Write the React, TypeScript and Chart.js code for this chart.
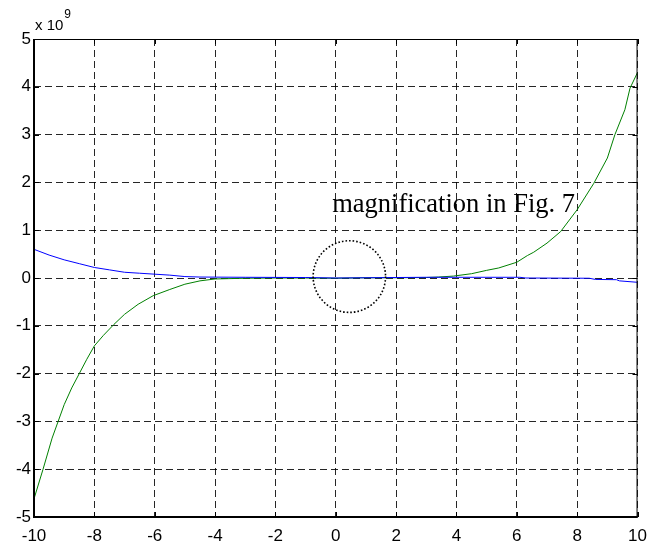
import React, { useEffect, useRef } from "react";
import { Chart, registerables } from "chart.js";

Chart.register(...registerables);

// values are in units of 10^9
const Y_EXPONENT = 9;

const GREEN_X = [-10, -9.7, -9.4, -9.2, -9.0, -8.75, -8.5, -8.25, -8.0, -7.7, -7.35, -7.0, -6.55, -6.05, -5.5, -5.0, -4.5, -4.0, -3.0, -2.0, -1.0, 0, 1.0, 2.0, 3.0, 3.4, 3.9, 4.5, 5.0, 5.4, 6.0, 6.35, 6.56, 7.0, 7.45, 8.0, 8.55, 9.0, 9.25, 9.58, 9.75, 10];
const GREEN_Y = [-4.62, -4.0, -3.35, -3.0, -2.65, -2.3, -2.0, -1.7, -1.42, -1.2, -0.97, -0.76, -0.55, -0.37, -0.24, -0.13, -0.06, -0.02, -0.005, 0, 0, -0.005, 0.005, 0.005, 0.01, 0.02, 0.04, 0.09, 0.16, 0.21, 0.33, 0.47, 0.54, 0.73, 0.97, 1.43, 1.98, 2.51, 3.0, 3.52, 3.97, 4.3];

const BLUE_X = [-10, -9.5, -9.0, -8.5, -8.0, -7.5, -7.0, -6.5, -6.0, -5.5, -5.0, -4.5, -3.0, -1.0, 0, 1.0, 3.0, 6.1, 6.3, 8.4, 8.6, 9.3, 9.4, 10];
const BLUE_Y = [0.6, 0.48, 0.38, 0.3, 0.22, 0.17, 0.12, 0.1, 0.08, 0.06, 0.03, 0.02, 0.015, 0.01, 0, 0.005, 0.015, 0.015, 0, -0.005, -0.03, -0.035, -0.06, -0.09];

const X_MIN = -10, X_MAX = 10, X_STEP = 2;
const Y_MIN = -5, Y_MAX = 5, Y_STEP = 1;

const ANNOTATION_TEXT = "magnification in Fig. 7";
const ANNOTATION_AT = { x: -0.12, y: 1.39 };
const CIRCLE_AT = { cx: 0.45, cy: 0.03, rx: 1.2, ry: 0.75 };

const toPoints = (xs: number[], ys: number[]) => xs.map((x, i) => ({ x, y: ys[i] }));

const decorations = {
  id: "decorations",
  afterDatasetsDraw(chart: any) {
    const { ctx, chartArea: a, scales } = chart;
    const xs = scales.x, ys = scales.y;
    ctx.save();
    // frame
    ctx.strokeStyle = "#000";
    ctx.setLineDash([]);
    ctx.lineWidth = 1;
    ctx.beginPath();
    ctx.moveTo(a.left, a.top + 0.5);
    ctx.lineTo(a.right, a.top + 0.5);
    ctx.moveTo(a.right - 0.5, a.top);
    ctx.lineTo(a.right - 0.5, a.bottom);
    ctx.stroke();
    ctx.lineWidth = 2;
    ctx.beginPath();
    ctx.moveTo(a.left, a.top);
    ctx.lineTo(a.left, a.bottom);
    ctx.lineTo(a.right, a.bottom);
    ctx.stroke();
    // inward tick marks
    ctx.lineWidth = 1;
    ctx.beginPath();
    xs.ticks.forEach((t: any) => {
      const px = Math.round(xs.getPixelForValue(t.value)) + 0.5;
      ctx.moveTo(px, a.bottom);
      ctx.lineTo(px, a.bottom - 5);
      ctx.moveTo(px, a.top);
      ctx.lineTo(px, a.top + 5);
    });
    ys.ticks.forEach((t: any) => {
      const py = Math.round(ys.getPixelForValue(t.value)) + 0.5;
      ctx.moveTo(a.left, py);
      ctx.lineTo(a.left + 5, py);
      ctx.moveTo(a.right, py);
      ctx.lineTo(a.right - 5, py);
    });
    ctx.stroke();
    // dotted circle
    const cx = xs.getPixelForValue(CIRCLE_AT.cx);
    const cy = ys.getPixelForValue(CIRCLE_AT.cy);
    const rx = Math.abs(xs.getPixelForValue(CIRCLE_AT.cx + CIRCLE_AT.rx) - cx);
    const ry = Math.abs(ys.getPixelForValue(CIRCLE_AT.cy + CIRCLE_AT.ry) - cy);
    ctx.setLineDash([1.6, 2]);
    ctx.lineWidth = 1.6;
    ctx.beginPath();
    ctx.ellipse(cx, cy, rx, ry, 0, 0, Math.PI * 2);
    ctx.stroke();
    ctx.setLineDash([]);
    // annotation
    ctx.fillStyle = "#000";
    ctx.font = "26.5px 'Liberation Serif', 'Times New Roman', serif";
    ctx.textAlign = "left";
    ctx.textBaseline = "alphabetic";
    ctx.fillText(ANNOTATION_TEXT, xs.getPixelForValue(ANNOTATION_AT.x), ys.getPixelForValue(ANNOTATION_AT.y));
    // exponent label
    ctx.font = "15px 'Liberation Sans', Arial, sans-serif";
    ctx.fillText("x 10", a.left + 1, a.top - 9);
    const w = ctx.measureText("x 10").width;
    ctx.font = "12px 'Liberation Sans', Arial, sans-serif";
    ctx.fillText(String(Y_EXPONENT), a.left + 2 + w, a.top - 21);
    ctx.restore();
  },
};

export default function App() {
  const ref = useRef<HTMLCanvasElement | null>(null);
  useEffect(() => {
    document.body.style.margin = "0";
    const canvas = ref.current!;
    const gridCommon = {
      color: "rgba(0,0,0,0.85)",
      lineWidth: 1,
      drawTicks: false,
      drawOnChartArea: true,
    };
    const tickFont = { family: "'Liberation Sans', Arial, sans-serif", size: 17 };
    const chart = new Chart(canvas, {
      type: "scatter",
      data: {
        datasets: [
          {
            data: toPoints(BLUE_X, BLUE_Y),
            showLine: true,
            borderColor: "#0000ff",
            borderWidth: 1,
            pointRadius: 0,
            fill: false,
          },
          {
            data: toPoints(GREEN_X, GREEN_Y),
            showLine: true,
            borderColor: "#008000",
            borderWidth: 1,
            pointRadius: 0,
            fill: false,
          },
        ],
      },
      options: {
        responsive: false,
        animation: false,
        layout: { padding: { top: 39, right: 15, bottom: 0, left: 0 } },
        plugins: { legend: { display: false }, tooltip: { enabled: false } },
        scales: {
          x: {
            type: "linear",
            min: X_MIN,
            max: X_MAX,
            grid: gridCommon,
            border: { display: false, dash: [7, 4] },
            ticks: {
              stepSize: X_STEP,
              color: "#000",
              font: tickFont,
              padding: 9,
              maxRotation: 0,
              callback: (v: any) => String(v),
            },
            afterFit: (s: any) => { s.height = 31; },
          },
          y: {
            type: "linear",
            min: Y_MIN,
            max: Y_MAX,
            grid: gridCommon,
            border: { display: false, dash: [7, 4] },
            ticks: {
              stepSize: Y_STEP,
              color: "#000",
              font: tickFont,
              padding: 3,
              callback: (v: any) => String(v),
            },
            afterFit: (s: any) => { s.width = 34; },
          },
        },
      },
      plugins: [decorations],
    } as any);
    return () => chart.destroy();
  }, []);
  return <canvas ref={ref} width={656} height={548} style={{ display: "block" }} />;
}
